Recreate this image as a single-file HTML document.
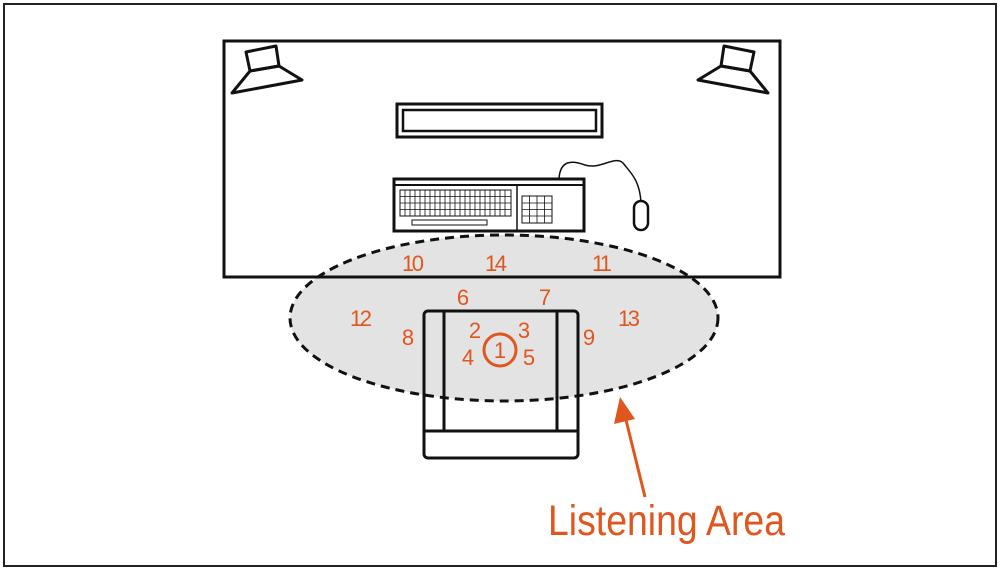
<!DOCTYPE html>
<html><head><style>body{margin:0;background:#fff}svg{display:block}</style></head><body>
<svg width="1000" height="570" viewBox="0 0 1000 570" xmlns="http://www.w3.org/2000/svg">
<rect x="0" y="0" width="1000" height="570" fill="#fff"/>
<rect x="4" y="4" width="992" height="562" fill="none" stroke="#222" stroke-width="2"/>
<rect x="224" y="41" width="556" height="236" fill="#fff" stroke="#111" stroke-width="3"/>
<!-- speakers -->
<g fill="none" stroke="#111" stroke-width="3" stroke-linejoin="round">
<polygon points="246,52 276,46 279,66 250,71"/>
<polygon points="250,71 279,66 302,80 232,93"/>
<polygon points="754,52 724,46 721,66 750,71"/>
<polygon points="750,71 721,66 698,80 768,93"/>
</g>
<!-- monitor -->
<rect x="397" y="104" width="205" height="33" fill="#fff" stroke="#111" stroke-width="3"/>
<rect x="403" y="110" width="193" height="21" fill="none" stroke="#111" stroke-width="2.5"/>
<!-- keyboard -->
<rect x="394" y="179" width="190" height="52" fill="#fff" stroke="#111" stroke-width="3"/>
<line x1="394" y1="185" x2="584" y2="185" stroke="#111" stroke-width="2"/>
<line x1="517" y1="185" x2="517" y2="231" stroke="#111" stroke-width="1.5"/>
<g stroke="#111" stroke-width="1" fill="none">
<rect x="400" y="190" width="111" height="26"/>
<rect x="522" y="196" width="30" height="27"/>
<rect x="412" y="220" width="75" height="5"/>
</g>
<g stroke="#111" stroke-width="0.8">
<line x1="400" y1="196.5" x2="511" y2="196.5"/><line x1="400" y1="203" x2="511" y2="203"/><line x1="400" y1="209.5" x2="511" y2="209.5"/>
<line x1="522" y1="203" x2="552" y2="203"/><line x1="522" y1="209.5" x2="552" y2="209.5"/><line x1="522" y1="216" x2="552" y2="216"/>
<line x1="529.5" y1="196" x2="529.5" y2="223"/><line x1="537" y1="196" x2="537" y2="223"/><line x1="544.5" y1="196" x2="544.5" y2="223"/>
<line x1="405" y1="190" x2="405" y2="216"/><line x1="410" y1="190" x2="410" y2="216"/><line x1="415" y1="190" x2="415" y2="216"/><line x1="420" y1="190" x2="420" y2="216"/><line x1="425" y1="190" x2="425" y2="216"/><line x1="430" y1="190" x2="430" y2="216"/><line x1="435" y1="190" x2="435" y2="216"/><line x1="440" y1="190" x2="440" y2="216"/><line x1="445" y1="190" x2="445" y2="216"/><line x1="450" y1="190" x2="450" y2="216"/><line x1="455" y1="190" x2="455" y2="216"/><line x1="460" y1="190" x2="460" y2="216"/><line x1="465" y1="190" x2="465" y2="216"/><line x1="470" y1="190" x2="470" y2="216"/><line x1="475" y1="190" x2="475" y2="216"/><line x1="480" y1="190" x2="480" y2="216"/><line x1="485" y1="190" x2="485" y2="216"/><line x1="490" y1="190" x2="490" y2="216"/><line x1="495" y1="190" x2="495" y2="216"/><line x1="500" y1="190" x2="500" y2="216"/><line x1="505" y1="190" x2="505" y2="216"/>
</g>
<!-- mouse -->
<path d="M559,179 C560,160 572,160 585,165 C600,170 615,155 623,163 C630,172 640,180 641,203" fill="none" stroke="#111" stroke-width="1.5"/>
<rect x="634" y="201" width="14" height="29" rx="7" fill="#fff" stroke="#111" stroke-width="2.5"/>
<!-- ellipse fill -->
<ellipse cx="504" cy="318" rx="214" ry="83" fill="#e3e3e3"/>
<line x1="224" y1="277" x2="780" y2="277" stroke="#111" stroke-width="3"/>
<!-- chair -->
<rect x="424" y="401" width="154" height="57" fill="#fff"/>
<rect x="424" y="311" width="154" height="147" rx="4" fill="none" stroke="#111" stroke-width="3"/>
<line x1="444" y1="311" x2="444" y2="431" stroke="#111" stroke-width="3"/>
<line x1="557" y1="311" x2="557" y2="431" stroke="#111" stroke-width="3"/>
<line x1="424" y1="431" x2="578" y2="431" stroke="#111" stroke-width="3"/>
<ellipse cx="504" cy="318" rx="214" ry="83" fill="none" stroke="#111" stroke-width="3" stroke-dasharray="9,6"/>
<!-- numbers -->
<g fill="#e0561f" font-family="Liberation Sans, sans-serif" font-size="22" text-anchor="middle" transform="translate(0,0)">
<text x="413" y="271" textLength="22">10</text><text x="496" y="271" textLength="22">14</text><text x="602" y="271" textLength="20">11</text>
<text x="463" y="305">6</text><text x="545" y="305">7</text>
<text x="361" y="326" textLength="22">12</text><text x="629" y="326" textLength="22">13</text>
<text x="408" y="345">8</text><text x="589" y="345">9</text>
<text x="475" y="338">2</text><text x="524" y="338">3</text>
<text x="468" y="365">4</text><text x="529" y="365">5</text>
<text x="500" y="358">1</text>
</g>
<circle cx="500" cy="350" r="16" fill="none" stroke="#e0561f" stroke-width="3"/>
<!-- arrow -->
<line x1="645" y1="497" x2="626" y2="420" stroke="#e0561f" stroke-width="3"/>
<polygon points="620,397 614,424 635,419" fill="#e0561f"/>
<text x="548" y="535" fill="#e0561f" font-family="Liberation Sans, sans-serif" font-size="43" textLength="237" lengthAdjust="spacingAndGlyphs">Listening Area</text>
</svg>
</body></html>
